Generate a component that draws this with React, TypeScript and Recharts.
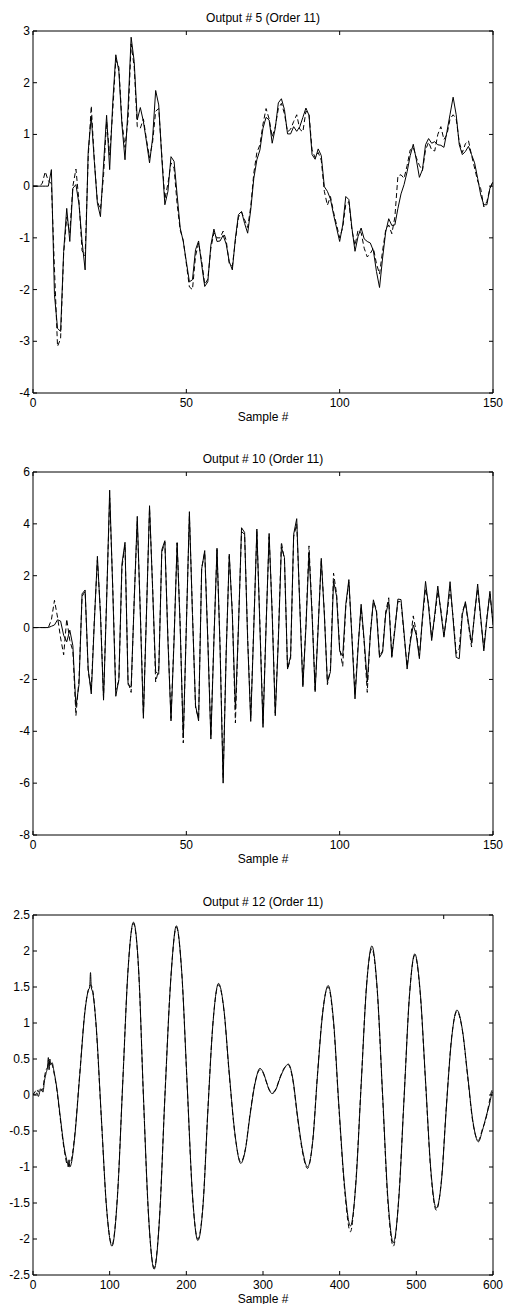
import React from 'react';
import { LineChart, Line, XAxis, YAxis } from 'recharts';

const FONT = '"Liberation Sans", Arial, Helvetica, sans-serif';

// ---------- Panel 1: Output # 5 ----------
const title1 = 'Output # 5 (Order 11)';
const xTicks1 = [0, 50, 100, 150];
const yTicks1 = [-4, -3, -2, -1, 0, 1, 2, 3];
const measured1 = [
  0, 0, 0, 0, 0, 0, 0.32, -2.1, -2.75, -2.81,
  -1.26, -0.43, -1.07, -0.04, 0.03, -0.35, -1.07, -1.62, 0.67, 1.35,
  0.48, -0.33, -0.59, 0.41, 1.37, 0.32, 1.61, 2.54, 2.22, 1.19,
  0.51, 1.51, 2.88, 2.41, 1.28, 1.52, 1.25, 0.86, 0.45, 0.93,
  1.85, 1.57, 0.54, -0.36, -0.1, 0.57, 0.48, -0.17, -0.81, -1.07,
  -1.46, -1.85, -1.81, -1.23, -1.06, -1.52, -1.94, -1.85, -1.14, -0.83,
  -1.07, -1.06, -0.95, -1.12, -1.46, -1.62, -1.01, -0.55, -0.49, -0.72,
  -0.91, -0.46, 0.15, 0.51, 0.7, 1.12, 1.33, 1.28, 0.83, 1.12,
  1.61, 1.69, 1.48, 1.01, 1.01, 1.15, 1.06, 1.15, 1.33, 1.51,
  1.37, 0.61, 0.52, 0.72, 0.59, -0.01, -0.1, -0.25, -0.55, -0.81,
  -1.07, -0.75, -0.2, -0.26, -0.81, -1.26, -0.97, -0.81, -1.02, -1.07,
  -1.1, -1.25, -1.65, -1.96, -1.39, -0.89, -0.63, -0.76, -0.75, -0.43,
  -0.15, 0.03, 0.28, 0.59, 0.81, 0.51, 0.17, 0.32, 0.8, 0.92,
  0.83, 0.86, 0.8, 0.79, 0.75, 1.06, 1.39, 1.72, 1.38, 0.8,
  0.61, 0.67, 0.77, 0.61, 0.45, 0.15, -0.17, -0.36, -0.36, -0.04,
  0.08,
];
const model1 = [
  0, 0, 0, 0.05, 0.28, 0.1, 0.05, -1.6, -3.1, -2.95,
  -1.3, -0.6, -0.9, 0.0, 0.33, -0.3, -1.25, -1.35, 0.55, 1.55,
  0.5, -0.3, -0.45, 0.2, 1.25, 0.6, 1.45, 2.45, 2.3, 1.25,
  0.75, 1.3, 2.75, 2.3, 1.15, 1.12, 1.3, 0.9, 0.55, 0.85,
  1.45, 1.5, 0.6, -0.25, 0.05, 0.45, 0.35, -0.35, -0.85, -1.05,
  -1.5, -1.95, -2.0, -1.35, -1.1, -1.45, -1.9, -1.8, -1.2, -0.9,
  -1.0, -1.0, -0.87, -1.05, -1.5, -1.55, -1.05, -0.6, -0.5, -0.65,
  -0.8, -0.4, 0.25, 0.65, 0.8, 1.2, 1.5, 1.3, 0.95, 1.15,
  1.5, 1.6, 1.4, 1.05, 1.1, 1.25, 1.38, 1.1, 1.05, 1.45,
  1.4, 0.7, 0.55, 0.65, 0.5, -0.1, -0.37, -0.2, -0.5, -0.75,
  -1.0, -0.8, -0.35, -0.3, -0.85, -1.15, -0.85, -0.9, -1.2, -1.37,
  -1.3, -1.2, -1.5, -1.7, -1.25, -0.85, -0.75, -0.92, -0.6, 0.2,
  0.22, 0.15, 0.4, 0.7, 0.75, 0.55, 0.4, 0.3, 0.7, 0.85,
  0.7, 0.68, 1.0, 1.15, 0.9, 1.0, 1.3, 1.38, 1.3, 0.85,
  0.65, 0.82, 0.88, 0.6, 0.35, 0.1, -0.05, -0.4, -0.3, -0.05,
  0.1,
];

// ---------- Panel 2: Output # 10 ----------
const title2 = 'Output # 10 (Order 11)';
const xTicks2 = [0, 50, 100, 150];
const yTicks2 = [-8, -6, -4, -2, 0, 2, 4, 6];
const measured2 = [
  0, 0, 0, 0, 0, 0, 0.05, 0.1, 0.3, 0.25,
  -0.3, -0.55, -0.1, -0.7, -3.05, -2.2, 1.3, 1.45, -1.6, -2.56,
  0.2, 2.75, 0.5, -2.8, 1.0, 5.3, 1.5, -2.65, -2.0, 2.45,
  3.29, -2.2, -2.3, 1.0, 4.29, 0.5, -3.5, 0.5, 4.7, 1.5,
  -1.7, -1.8, 3.0, 3.35, -0.5, -3.6, -0.5, 3.27, 0.0, -4.25,
  0.0, 4.47, 0.5, -3.0, -3.6, 2.26, 2.97, -0.5, -4.3, -0.5,
  3.06, -0.8, -6.0, -1.0, 2.83, 0.5, -3.15, 0.0, 3.85, 3.67,
  -0.5, -3.62, 0.0, 3.8, 0.0, -3.85, 0.0, 3.63, 0.5, -3.4,
  -0.5, 3.1, 2.7, -1.6, -1.1, 3.6, 4.2, 0.8, -2.28, 0.0,
  2.9, 0.5, -2.47, 0.0, 2.67, 0.5, -2.1, -1.7, 1.8, 1.2,
  -0.9, -1.1, 0.9, 1.85, -0.4, -2.75, -0.8, 0.9, -0.5, -2.1,
  -0.3, 1.07, 0.6, -1.15, -0.95, 0.5, 1.0, -1.15, -0.1, 1.1,
  1.08, -0.2, -1.6, -0.6, 0.1, -0.3, -1.2, 0.4, 1.78, 0.8,
  -0.5, 0.5, 1.6, 0.6, -0.37, 0.6, 1.77, 0.3, -1.15, -1.2,
  0.5, 1.0, 0.2, -0.6, 0.5, 1.68, 0.4, -0.9, 0.3, 1.4,
  0.1,
];
const model2 = [
  0, 0, 0, 0, 0, 0, 0.3, 1.05, 0.4, -0.4,
  -1.05, 0.33, -0.5, -0.9, -3.4, -2.0, 1.2, 1.4, -1.7, -2.4,
  0.3, 2.6, 0.6, -2.7, 1.1, 5.0, 1.6, -2.4, -2.05, 2.3,
  3.2, -2.1, -2.5, 1.1, 4.1, 0.6, -3.4, 0.6, 4.6, 1.6,
  -2.1, -1.6, 2.9, 3.3, -0.4, -3.5, -0.4, 3.27, 0.1, -4.45,
  0.1, 4.3, 0.6, -3.1, -3.5, 2.3, 2.9, -0.4, -4.2, -0.4,
  3.0, -0.7, -5.8, -0.9, 2.75, 0.6, -3.68, 0.1, 3.7, 3.6,
  -0.4, -3.5, 0.1, 3.7, 0.1, -3.7, 0.1, 3.5, 0.6, -3.3,
  -0.4, 3.3, 2.6, -1.6, -1.2, 3.5, 4.0, 0.9, -2.2, 0.1,
  3.15, 0.6, -2.4, 0.1, 2.6, 0.6, -2.2, -1.6, 2.1, 1.3,
  -0.8, -1.5, 0.8, 1.75, -0.3, -2.6, -0.7, 0.8, -0.6, -2.5,
  -0.2, 1.0, 0.7, -1.1, -0.9, 0.6, 1.15, -1.1, 0.0, 1.0,
  1.0, -0.3, -1.5, -0.5, 0.45, -0.2, -1.1, 0.3, 1.5, 0.9,
  -0.4, 0.4, 1.4, 0.7, -0.3, 0.5, 1.5, 0.4, -1.0, -0.8,
  0.6, 0.95, 0.1, -0.75, 0.6, 1.5, 0.3, -0.8, 0.4, 1.3,
  0.2,
];

// ---------- Panel 3: Output # 12 ----------
const title3 = 'Output # 12 (Order 11)';
const xTicks3 = [0, 100, 200, 300, 400, 500, 600];
const yTicks3 = [-2.5, -2, -1.5, -1, -0.5, 0, 0.5, 1, 1.5, 2, 2.5];
const samples3 = [
  0, 3, 5, 7, 9, 11, 13, 15, 17, 19,
  20, 21, 22, 23, 25, 27, 31, 35, 41, 45,
  46, 47, 48, 50, 54, 61, 68, 72, 74, 75,
  76, 78, 82, 89, 96, 103, 110, 117, 124, 131,
  138, 144, 151, 158, 165, 172, 180, 187, 194, 201,
  208, 215, 222, 228, 235, 242, 249, 256, 264, 271,
  277, 283, 290, 296, 300, 304, 308, 312, 317, 322,
  328, 333, 339, 345, 352, 358, 365, 371, 378, 385,
  392, 399, 407, 414, 421, 428, 435, 442, 449, 456,
  463, 470, 477, 484, 491, 498, 505, 512, 519, 526,
  533, 539, 546, 553, 560, 567, 574, 581, 586, 591,
  596, 598, 600,
];
const measured3 = [
  0.02, 0.0, 0.03, -0.02, 0.05, 0.08, 0.04, 0.2, 0.3, 0.4,
  0.52, 0.35, 0.5, 0.42, 0.45, 0.35, 0.1, -0.25, -0.75, -0.95,
  -1.0, -0.9, -1.0, -0.95, -0.63, 0.28, 1.18, 1.45, 1.5, 1.7,
  1.5, 1.42, 1.02, -0.28, -1.57, -2.1, -1.44, 0.15, 1.74, 2.4,
  1.7, 0.0, -1.72, -2.42, -1.72, -0.04, 1.65, 2.35, 1.71, 0.17,
  -1.38, -2.02, -1.5, -0.24, 1.03, 1.55, 1.19, 0.3, -0.59, -0.95,
  -0.76, -0.29, 0.18, 0.37, 0.32, 0.2, 0.07, 0.02, 0.08, 0.23,
  0.37, 0.43, 0.22, -0.29, -0.79, -1.0, -0.63, 0.26, 1.15, 1.52,
  1.03, -0.15, -1.33, -1.82, -1.25, 0.13, 1.5, 2.07, 1.47, 0.01,
  -1.45, -2.05, -1.46, -0.05, 1.37, 1.96, 1.44, 0.2, -1.05, -1.57,
  -1.17, -0.2, 0.78, 1.18, 0.91, 0.27, -0.38, -0.65, -0.5, -0.3,
  -0.1, 0.0, 0.05,
];
const model3 = [
  0.0, 0.05, 0.08, 0.04, 0.1, 0.06, 0.1, 0.25, 0.35, 0.38,
  0.45, 0.42, 0.47, 0.45, 0.42, 0.33, 0.08, -0.28, -0.78, -0.97,
  -0.95, -0.98, -0.95, -0.9, -0.6, 0.3, 1.2, 1.45, 1.52, 1.53,
  1.52, 1.45, 1.0, -0.3, -1.58, -2.08, -1.42, 0.17, 1.75, 2.38,
  1.68, -0.02, -1.74, -2.4, -1.7, -0.02, 1.66, 2.33, 1.7, 0.15,
  -1.4, -2.0, -1.48, -0.22, 1.04, 1.53, 1.18, 0.28, -0.6, -0.93,
  -0.75, -0.27, 0.19, 0.35, 0.31, 0.19, 0.08, 0.03, 0.09, 0.24,
  0.38, 0.42, 0.2, -0.31, -0.82, -1.02, -0.62, 0.28, 1.17, 1.5,
  1.0, -0.18, -1.38, -1.9, -1.22, 0.15, 1.52, 2.03, 1.45, -0.02,
  -1.5, -2.1, -1.44, -0.03, 1.38, 1.94, 1.42, 0.18, -1.08, -1.6,
  -1.15, -0.18, 0.8, 1.16, 0.9, 0.25, -0.4, -0.63, -0.48, -0.32,
  -0.05, 0.05, 0.08,
];

const sampleIndex = (n: number) => Array.from({ length: n }, (_, i) => i);

const buildRows = (xs: number[], a: number[], b: number[]) =>
  xs.map((x, i) => ({ x, y: a[i], yhat: b[i] }));

const data1 = buildRows(sampleIndex(measured1.length), measured1, model1);
const data2 = buildRows(sampleIndex(measured2.length), measured2, model2);
const data3 = buildRows(samples3, measured3, model3);

const TICK_LEN = 4;

const BottomTick = (p: any) => (
  <g>
    <line x1={p.x} y1={p.y} x2={p.x} y2={p.y - TICK_LEN} stroke="#000" strokeWidth={1} />
    <text x={p.x} y={p.y + 14} textAnchor="middle" fontSize={12} fontFamily={FONT} fill="#000">
      {p.payload.value}
    </text>
  </g>
);

const TopTick = (p: any) => (
  <line x1={p.x} y1={p.y} x2={p.x} y2={p.y + TICK_LEN} stroke="#000" strokeWidth={1} />
);

const LeftTick = (p: any) => (
  <g>
    <line x1={p.x} y1={p.y} x2={p.x + TICK_LEN} y2={p.y} stroke="#000" strokeWidth={1} />
    <text x={p.x - 3} y={p.y + 4} textAnchor="end" fontSize={12} fontFamily={FONT} fill="#000">
      {p.payload.value}
    </text>
  </g>
);

const RightTick = (p: any) => (
  <line x1={p.x} y1={p.y} x2={p.x - TICK_LEN} y2={p.y} stroke="#000" strokeWidth={1} />
);

type PanelProps = {
  top: number;
  height: number;
  plotTop: number;
  plotBottom: number;
  title: string;
  data: any[];
  xDomain: [number, number];
  xTicks: number[];
  yDomain: [number, number];
  yTicks: number[];
  curve: 'linear' | 'monotone';
};

const PLOT_LEFT = 33;
const PLOT_RIGHT = 493;
const WIDTH = 509;
const X_AXIS_H = 20;

function Panel(props: PanelProps) {
  const { top, height, plotTop, plotBottom, title, data, xDomain, xTicks, yDomain, yTicks, curve } = props;
  const margin = {
    top: plotTop - top - 1,
    right: WIDTH - PLOT_RIGHT - 1,
    left: 0,
    bottom: top + height - plotBottom - X_AXIS_H,
  };
  const textStyle: React.CSSProperties = {
    position: 'absolute',
    left: PLOT_LEFT,
    width: PLOT_RIGHT - PLOT_LEFT,
    textAlign: 'center',
    fontFamily: FONT,
    fontSize: 12,
    lineHeight: '14px',
    color: '#000',
    whiteSpace: 'nowrap',
  };
  return (
    <div style={{ position: 'absolute', left: 0, top, width: WIDTH, height }}>
      <LineChart width={WIDTH} height={height} data={data} margin={margin}>
        <XAxis
          dataKey="x"
          type="number"
          domain={xDomain}
          ticks={xTicks}
          interval={0}
          tickSize={0}
          tickMargin={0}
          height={X_AXIS_H}
          axisLine={{ stroke: '#000', strokeWidth: 1 }}
          tickLine={false}
          tick={BottomTick}
          allowDataOverflow
        />
        <XAxis
          xAxisId="top"
          orientation="top"
          type="number"
          domain={xDomain}
          ticks={xTicks}
          interval={0}
          tickSize={0}
          tickMargin={0}
          height={1}
          axisLine={{ stroke: '#000', strokeWidth: 1 }}
          tickLine={false}
          tick={TopTick}
          allowDataOverflow
        />
        <YAxis
          type="number"
          domain={yDomain}
          ticks={yTicks}
          interval={0}
          width={PLOT_LEFT}
          tickSize={0}
          tickMargin={0}
          axisLine={{ stroke: '#000', strokeWidth: 1 }}
          tickLine={false}
          tick={LeftTick}
          allowDataOverflow
        />
        <YAxis
          yAxisId="right"
          orientation="right"
          type="number"
          domain={yDomain}
          ticks={yTicks}
          interval={0}
          width={1}
          tickSize={0}
          tickMargin={0}
          axisLine={{ stroke: '#000', strokeWidth: 1 }}
          tickLine={false}
          tick={RightTick}
          allowDataOverflow
        />
        <Line
          type={curve}
          dataKey="yhat"
          stroke="#000"
          strokeWidth={1}
          strokeDasharray="5 3"
          dot={false}
          activeDot={false}
          isAnimationActive={false}
        />
        <Line
          type={curve}
          dataKey="y"
          stroke="#000"
          strokeWidth={1}
          dot={false}
          activeDot={false}
          isAnimationActive={false}
        />
      </LineChart>
      <div style={{ ...textStyle, top: plotTop - top - 20 }}>{title}</div>
      <div style={{ ...textStyle, top: plotBottom - top + 17 }}>Sample #</div>
    </div>
  );
}

export default function App() {
  return (
    <div style={{ position: 'absolute', left: 0, top: 0, width: WIDTH, height: 1304, background: '#fff' }}>
      <Panel
        top={0}
        height={430}
        plotTop={31}
        plotBottom={393}
        title={title1}
        data={data1}
        xDomain={[0, 150]}
        xTicks={xTicks1}
        yDomain={[-4, 3]}
        yTicks={yTicks1}
        curve="linear"
      />
      <Panel
        top={440}
        height={420}
        plotTop={472}
        plotBottom={835}
        title={title2}
        data={data2}
        xDomain={[0, 150]}
        xTicks={xTicks2}
        yDomain={[-8, 6]}
        yTicks={yTicks2}
        curve="linear"
      />
      <Panel
        top={880}
        height={424}
        plotTop={915}
        plotBottom={1275}
        title={title3}
        data={data3}
        xDomain={[0, 600]}
        xTicks={xTicks3}
        yDomain={[-2.5, 2.5]}
        yTicks={yTicks3}
        curve="monotone"
      />
    </div>
  );
}
